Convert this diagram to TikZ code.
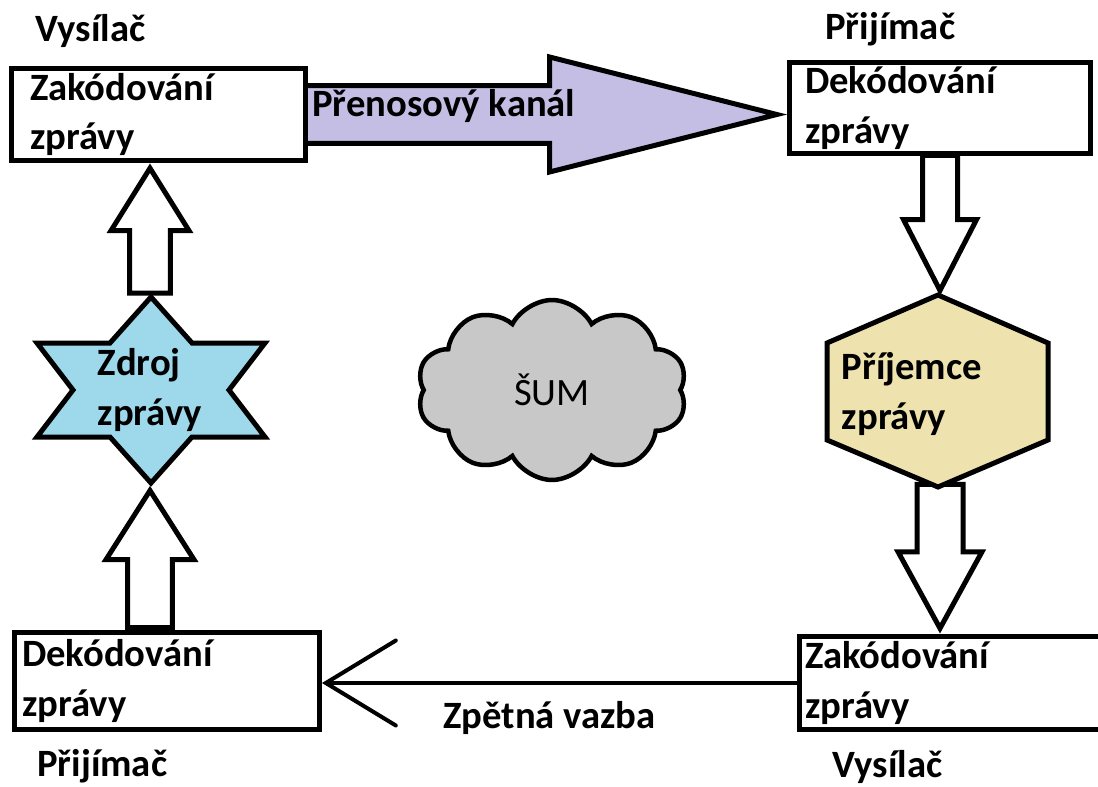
\documentclass[tikz,border=0pt]{standalone}
\usepackage{fontspec}
\setmainfont{Carlito}
\usetikzlibrary{shapes.arrows,shapes.symbols,arrows.meta,backgrounds,calc}

\definecolor{chanfill}{RGB}{197,190,228}
\definecolor{srcfill}{RGB}{157,217,234}
\definecolor{recvfill}{RGB}{238,226,175}
\definecolor{noisefill}{RGB}{200,200,200}

\tikzset{
    txt/.style={font=\bfseries\fontsize{22}{28}\selectfont, inner sep=0pt},
    box/.style={txt, draw, line width=1mm, fill=white, align=left, inner ysep=0pt},
    blockarrow/.style n args={3}{single arrow, draw, fill=white, line width=1mm,
        minimum width=0pt, inner xsep=0pt, inner ysep=#1,
        single arrow head extend=#2, single arrow tip angle=#3},
}

\begin{document}
\begin{tikzpicture}[x=0.02cm, y=-0.02cm]
        \useasboundingbox (0,0) rectangle (1098,787);
        \clip (0,0) rectangle (1098,787);

        \node[box, minimum width=59mm, minimum height=18.6mm, text width=51.4mm, inner xsep=3.8mm] (enc1) at (158.5,114.5) {Zakódování\\zprávy};
        \node[box, minimum width=60.2mm, minimum height=18.2mm, text width=54mm, inner xsep=3.1mm] (dec1) at (940,108) {Dekódování\\zprávy};
        \node[box, minimum width=64mm, minimum height=18.8mm, text width=61.8mm, inner xsep=1.1mm] (enc2) at (959.5,683) {Zakódování\\zprávy};
        \node[box, minimum width=61mm, minimum height=19.4mm, text width=58mm, inner xsep=1.5mm] (dec2) at (167,681) {Dekódování\\zprávy};

        \node[txt, anchor=base west] (snd1) at (35,42) {Vysílač};
        \node[txt, anchor=base west] (rcv1) at (825,40) {Přijímač};
        \node[txt, anchor=base west] (rcv2) at (37,776) {Přijímač};
        \node[txt, anchor=base west] (snd2) at (832,777) {Vysílač};

        \draw[shift={(151,390)}, line width=1mm, fill=srcfill] (0,-93) -- (41,-47) -- (114,-47) -- (78,0) -- (114,47) -- (41,47) -- (0,93) -- (-41,47) -- (-114,47) -- (-78,0) -- (-114,-47) -- (-41,-47) -- cycle;
        \node[txt, align=left] (src) at (150,390) {Zdroj\\zprávy};

        \draw[shift={(938,391)}, line width=1mm, fill=recvfill] (0,-96) -- (110,-48) -- (110,49) -- (0,96) -- (-111,49) -- (-111,-48) -- cycle;
        \node[txt, align=left] (recv) at (912,394) {Příjemce\\zprávy};

        \node[cloud, draw, fill=noisefill, line width=0.9mm, cloud puffs=10, cloud puff arc=125, cloud ignores aspect, minimum width=54mm, minimum height=36mm, inner sep=0pt, font=\fontsize{22}{28}\selectfont] (noise) at (552,390) {ŠUM};

        \begin{scope}[on background layer]
            \node[blockarrow={5.3mm}{5.7mm}{28.4}, fill=chanfill, anchor=tip, minimum height=98mm] (chanarrow) at (dec1.west |- enc1.east) {};
            \node[blockarrow={3.6mm}{3.7mm}{64}, rotate=90, anchor=tip, minimum height=25mm] (up1) at (enc1.south -| src) {};
            \node[blockarrow={4mm}{4.3mm}{65}, rotate=90, anchor=tail, minimum height=27.4mm] (up2) at (dec2.north -| src) {};
            \node[blockarrow={3mm}{3.8mm}{54.5}, rotate=-90, anchor=tail, minimum height=27mm] (down1) at ($(dec1.south)+(0,-3)$) {};
            \node[blockarrow={4.1mm}{3.8mm}{57.5}, rotate=-90, anchor=tip, minimum height=28.8mm] (down2) at (enc2.north -| dec1.south) {};
        \end{scope}
        \node[txt, anchor=base west] (chan) at (312,117) {Přenosový kanál};

        \draw[line width=0.8mm, -{Straight Barb[length=14mm, width=17mm, line cap=round]}] (enc2.west) -- (enc2.west -| dec2.east);
        \node[txt, anchor=base] (fb) at (549.5,728) {Zpětná vazba};
\end{tikzpicture}
\end{document}
